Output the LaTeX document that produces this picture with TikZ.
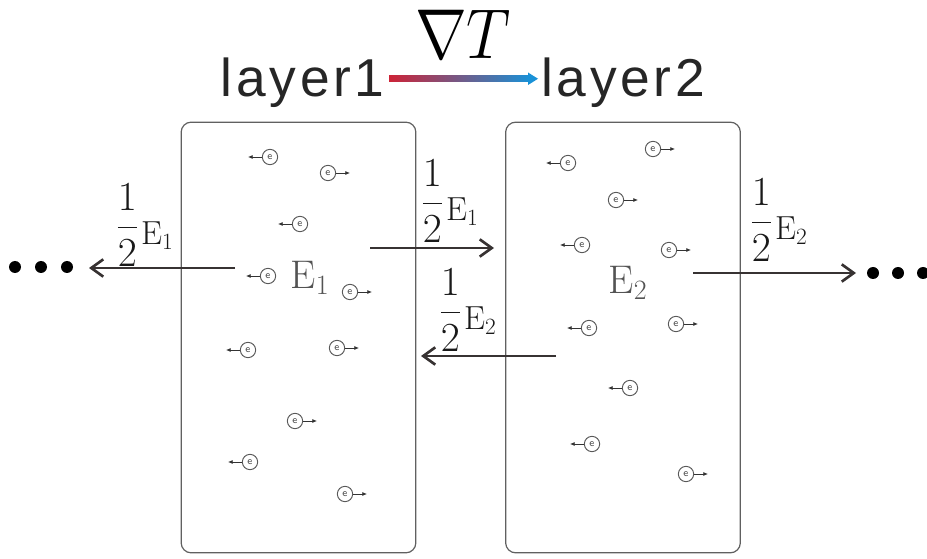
\RequirePackage{fix-cm}
\documentclass[tikz,border=0pt]{standalone}
\usepackage{amsmath}
\usepackage{fontspec}
\usetikzlibrary{arrows.meta,positioning}
\newfontfamily\layerfont[LetterSpace=7]{Liberation Sans}
\definecolor{hotred}{RGB}{205,35,55}
\definecolor{coldblue}{RGB}{25,145,215}
\definecolor{inkgray}{RGB}{55,50,50}
\tikzset{
  cell/.style={draw=gray!75!black,line width=0.9pt,rounded corners=7.5pt,
    minimum width=176pt,minimum height=323pt,inner sep=0pt},
  electron/.style={circle,draw=gray!70!black,line width=0.7pt,minimum size=11.5pt,
    inner sep=0pt,font=\sffamily\fontsize{8}{8}\selectfont,text=gray!60!black},
  drift/.style={-{Latex[length=3.5pt,width=3pt]},line width=0.55pt,black!80},
  flux/.style={-{Straight Barb[length=9pt,width=13pt,line width=2pt]},line width=2pt,inkgray},
  share/.style={inner sep=0pt,anchor=base west,text=black!90},
  energy/.style={inner sep=0pt,font=\fontsize{30}{30}\selectfont,text=gray!65!black},
  layer/.style={inner sep=0pt,font=\layerfont\fontsize{40}{40}\selectfont,text=black!85},
  dot/.style={circle,fill=black,inner sep=0pt,minimum size=9pt}
}
\newcommand{\halfE}[1]{{\fontsize{31}{34}\selectfont$\dfrac{1}{2}$}\kern2pt
  \raisebox{-5pt}{\fontsize{25}{27}\selectfont$\mathrm{E}_{#1}$}}

\begin{document}
\begin{tikzpicture}[x=0.75pt,y=-0.75pt]
\useasboundingbox (0,0) rectangle (927,559);
% the two layers
\node[cell] (cell1) at (298.5,337.5) {};
\node[cell] (cell2) at (623,337.5) {};
\node[energy] (E1) at (310,278) {$\mathrm{E}_1$};
\node[energy] (E2) at (628,283) {$\mathrm{E}_2$};
% heading with the temperature gradient
\node[layer,anchor=base east] (layer1) at (385,97) {layer1};
\node[layer,anchor=base west] (layer2) at (541,97) {layer2};
\node[inner sep=0pt,anchor=base,font=\fontsize{53}{53}\selectfont] (grad) at (463,59)
  {\scalebox{0.88}[1]{$\nabla T$}};
\shade[left color=hotred,right color=coldblue] (389,76) rectangle (530,81.5);
\fill[coldblue] (528,72.5) -- (538,78.75) -- (528,85) -- cycle;
% electrons moving back
\foreach \x/\y [count=\i] in {270/157,300/224,268/276,248/350,250/462,
    568/163,582/245,589/328,630/388,592/444}{
  \node[electron] (eb\i) at (\x,\y) {e};
  \coordinate (tb\i) at (\x-22,\y);
  \draw[drift] (eb\i.west) -- (tb\i);}
% electrons moving forth
\foreach \x/\y [count=\i] in {328/173,350/292,337/348,295/421,345/494,
    653/149,616/200,669/250,676/324,686/474}{
  \node[electron] (ef\i) at (\x,\y) {e};
  \coordinate (tf\i) at (\x+22,\y);
  \draw[drift] (ef\i.east) -- (tf\i);}
% energy exchange
\foreach \x [count=\i] in {15,41,67}{\node[dot] (dL\i) at (\x,267) {};}
\foreach \x [count=\i] in {873,898,923}{\node[dot] (dR\i) at (\x,273) {};}
\coordinate (outL) at (235,268); \coordinate (tipL) at (89,268);
\coordinate (fwdA) at (370,248); \coordinate (fwdB) at (494,248);
\coordinate (backA) at (556,356); \coordinate (backB) at (421,356);
\coordinate (outR) at (693,273); \coordinate (tipR) at (856,273);
\draw[flux] (outL) -- (tipL);
\draw[flux] (fwdA) -- (fwdB);
\draw[flux] (backA) -- (backB);
\draw[flux] (outR) -- (tipR);
\node[share] (hL) at (116,238) {\halfE{1}};
\node[share] (hA) at (421,214) {\halfE{1}};
\node[share] (hB) at (439,323) {\halfE{2}};
\node[share] (hR) at (750,233) {\halfE{2}};
\end{tikzpicture}
\end{document}
